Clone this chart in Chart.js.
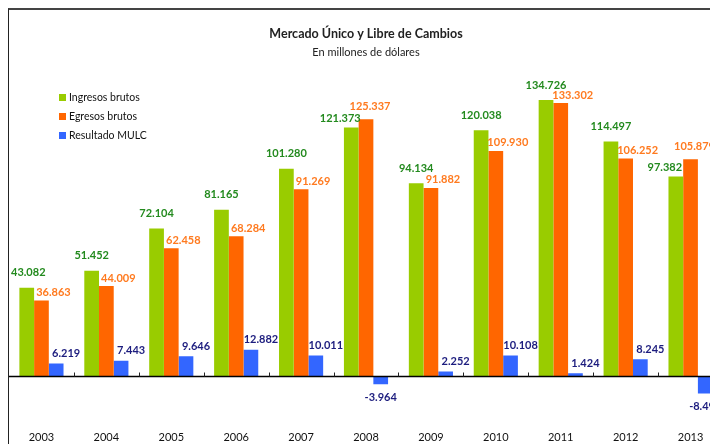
<!DOCTYPE html>
<html>
<head>
<meta charset="utf-8">
<script src="https://cdn.jsdelivr.net/npm/chart.js@4.4.1/dist/chart.umd.min.js"></script>
<style>
	html, body { margin: 0; padding: 0; width: 710px; height: 444px; overflow: hidden; background: #fff; }
	#frame { position: absolute; left: 8px; top: 8px; width: 716px; height: 445px; border-top: 2px solid #444; border-left: 1px solid #222; }
	#wrap { position: absolute; left: 0; top: 0; width: 714px; height: 439px; }
</style>
</head>
<body>
<div id="frame"><div id="wrap"><canvas id="mulcChart"></canvas></div></div>
<script>
// En millones de dólares
let years = ['2003', '2004', '2005', '2006', '2007', '2008', '2009', '2010', '2011', '2012', '2013'];
let ingresosBrutos = [43082, 51452, 72104, 81165, 101280, 121373, 94134, 120038, 134726, 114497, 97382];
let egresosBrutos = [36863, 44009, 62458, 68284, 91269, 125337, 91882, 109930, 133302, 106252, 105879];
let resultadoMulc = [6219, 7443, 9646, 12882, 10011, -3964, 2252, 10108, 1424, 8245, -8497];

let fontFamily = 'Lato, "Open Sans", sans-serif';

function fmtMiles(v) {
	let s = Math.abs(v).toString().replace(/\B(?=(\d{3})+(?!\d))/g, '.');
	return (v < 0 ? '-' : '') + s;
}

let mulcDecor = {
	id: 'mulcDecor',
	afterDatasetsDraw: function (chart) {
		let ctx = chart.ctx;
		let area = chart.chartArea;
		let x = chart.scales.x;
		let y0 = Math.round(chart.scales.y.getPixelForValue(0)) + 0.5;

		ctx.save();
		// linea del cero
		ctx.strokeStyle = '#000';
		ctx.lineWidth = 1.5;
		ctx.beginPath();
		ctx.moveTo(area.left, y0);
		ctx.lineTo(area.right, y0);
		ctx.stroke();

		// marcas entre categorias
		ctx.lineWidth = 1;
		ctx.strokeStyle = '#222';
		for (let i = 0; i < years.length; i++) {
			let px = Math.round((x.getPixelForValue(i) + x.getPixelForValue(i + 1)) / 2) + 0.5;
			ctx.beginPath();
			ctx.moveTo(px, y0);
			ctx.lineTo(px, y0 - 4);
			ctx.stroke();
		}

		// etiquetas de valores
		ctx.font = 'bold 11px ' + fontFamily;
		ctx.textAlign = 'center';
		ctx.textBaseline = 'middle';
		chart.data.datasets.forEach(function (ds, di) {
			let meta = chart.getDatasetMeta(di);
			meta.data.forEach(function (bar, i) {
				let v = ds.data[i];
				let txt = fmtMiles(v);
				ctx.fillStyle = ds.labelColor;
				if (v < 0) {
					ctx.fillText(txt, bar.x, bar.y + 13);
					return;
				}
				let dx = ds.labelDx;
				let dy = ds.labelDy;
				// cuando los egresos superan a los ingresos las etiquetas se separan
				if (egresosBrutos[i] > ingresosBrutos[i]) {
					if (di === 0) { dx = -11; dy = 9; }
					if (di === 1) { dx = 4; dy = 13; }
				}
				let lx = bar.x + dx;
				let half = ctx.measureText(txt).width / 2;
				if (lx - half < area.left + 2) lx = area.left + 2 + half;
				ctx.fillText(txt, lx, bar.y - dy);
			});
		});

		// leyenda
		ctx.font = '10.5px ' + fontFamily;
		ctx.textAlign = 'left';
		chart.data.datasets.forEach(function (ds, di) {
			let ly = 88 + di * 19;
			ctx.fillStyle = ds.backgroundColor;
			ctx.fillRect(50, ly - 4, 7, 7);
			ctx.fillStyle = '#111';
			ctx.fillText(ds.label, 60, ly);
		});
		ctx.restore();
	}
};

new Chart(document.getElementById('mulcChart'), {
	type: 'bar',
	data: {
		labels: years,
		datasets: [{
			label: 'Ingresos brutos',
			data: ingresosBrutos,
			backgroundColor: '#99CC00',
			labelColor: '#238A1E',
			labelDx: 0,
			labelDy: 15
		}, {
			label: 'Egresos brutos',
			data: egresosBrutos,
			backgroundColor: '#FF6600',
			labelColor: '#FF7A1F',
			labelDx: 12,
			labelDy: 8
		}, {
			label: 'Resultado MULC',
			data: resultadoMulc,
			backgroundColor: '#3366FF',
			labelColor: '#1C1C7E',
			labelDx: 10,
			labelDy: 10
		}]
	},
	options: {
		responsive: true,
		maintainAspectRatio: false,
		animation: false,
		layout: { padding: 0 },
		datasets: {
			bar: { categoryPercentage: 0.68, barPercentage: 1 }
		},
		scales: {
			x: {
				grid: { display: false, drawTicks: false },
				border: { display: false },
				ticks: { color: '#111', padding: 5, font: { family: fontFamily, size: 11 } }
			},
			y: {
				display: false,
				min: -24250,
				max: 146400
			}
		},
		plugins: {
			legend: { display: false },
			tooltip: { enabled: false },
			title: {
				display: true,
				text: 'Mercado Único y Libre de Cambios',
				color: '#222',
				font: { family: fontFamily, size: 12.5, weight: 'bold' },
				padding: { top: 16, bottom: 5 }
			},
			subtitle: {
				display: true,
				text: 'En millones de dólares',
				color: '#222',
				font: { family: fontFamily, size: 11 },
				padding: { top: 0, bottom: 17 }
			}
		}
	},
	plugins: [mulcDecor]
});
</script>
</body>
</html>
